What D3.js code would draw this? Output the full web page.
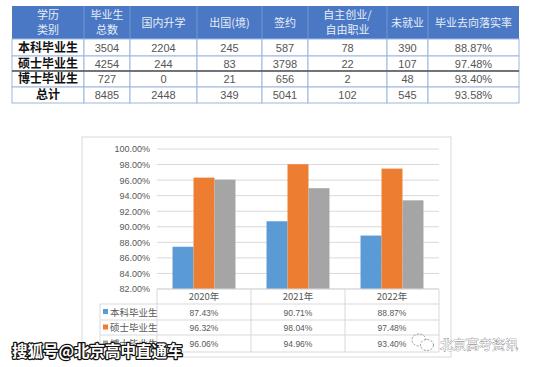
<!DOCTYPE html>
<html><head><meta charset="utf-8">
<script src="https://cdn.jsdelivr.net/npm/d3@7"></script>
<style>
body{margin:0;background:#fff;}
svg{display:block;font-family:"Noto Sans CJK SC","Noto Sans",sans-serif;}
</style></head>
<body><svg id="c" width="534" height="367"></svg>
<script>
// ---- table data ----
const tableHeaders = [["学历","类别"],["毕业生","总数"],["国内升学"],["出国(境)"],["签约"],["自主创业/","自由职业"],["未就业"],["毕业去向落实率"]];
const tableRowNames = ["本科毕业生","硕士毕业生","博士毕业生","总计"];
const tableRows = [
  ["3504","2204","245","587","78","390","88.87%"],
  ["4254","244","83","3798","22","107","97.48%"],
  ["727","0","21","656","2","48","93.40%"],
  ["8485","2448","349","5041","102","545","93.58%"]
];
// ---- chart data ----
const years = ["2020年","2021年","2022年"];
const seriesNames = ["本科毕业生","硕士毕业生","博士毕业生"];
const values = {
  "本科毕业生":[87.43,90.71,88.87],
  "硕士毕业生":[96.32,98.04,97.48],
  "博士毕业生":[96.06,94.96,93.40]
};
const yTicks = [82,84,86,88,90,92,94,96,98,100];
const colors = ["#5B9BD5","#ED7D31","#A5A5A5"];

const svg = d3.select("#c");

// ===== Table =====
const colX = [12,84,130,197,262,308,387,428,519];
const rowY = [6,39,56,71,87,103];
const t = svg.append("g");
t.append("rect").attr("x",colX[0]).attr("y",rowY[0]).attr("width",colX[8]-colX[0]).attr("height",rowY[1]-rowY[0]).attr("fill","#4A78C4");
for(let r=0;r<4;r++){
  for(let c=0;c<8;c++){
    t.append("rect").attr("x",colX[c]).attr("y",rowY[r+1]).attr("width",colX[c+1]-colX[c]).attr("height",rowY[r+2]-rowY[r+1])
      .attr("fill","#fff").attr("stroke","#9DB7DF").attr("stroke-width",1);
  }
}
for(let c=1;c<8;c++){
  t.append("line").attr("x1",colX[c]).attr("x2",colX[c]).attr("y1",rowY[0]).attr("y2",rowY[1]).attr("stroke","#7F9FD6").attr("stroke-width",0.8);
}
t.append("line").attr("x1",colX[0]).attr("x2",colX[8]).attr("y1",rowY[3]).attr("y2",rowY[3]).attr("stroke","#555").attr("stroke-width",1.3);
tableHeaders.forEach((h,c)=>{
  const cx=(colX[c]+colX[c+1])/2;
  const n=h.length;
  h.forEach((s,i)=>{
    t.append("text").attr("x",cx).attr("y",n===1?27:(i===0?19:34)).attr("text-anchor","middle")
      .attr("fill","#E8EEF8").attr("font-size",11).text(s);
  });
});
tableRowNames.forEach((name,r)=>{
  const cy=(rowY[r+1]+rowY[r+2])/2+4;
  t.append("text").attr("x",(colX[0]+colX[1])/2).attr("y",cy).attr("text-anchor","middle")
    .attr("font-size",12).attr("font-weight","bold").attr("fill","#111").text(name);
  tableRows[r].forEach((v,c)=>{
    t.append("text").attr("x",(colX[c+1]+colX[c+2])/2).attr("y",cy).attr("text-anchor","middle")
      .attr("font-size",11).attr("fill","#555").attr("font-family","Liberation Sans, Arial, sans-serif").text(v);
  });
});

// ===== Chart =====
const box = {x:82,y:137,w:369,h:220};
svg.append("rect").attr("x",box.x).attr("y",box.y).attr("width",box.w).attr("height",box.h).attr("fill","#fff").attr("stroke","#D9D9D9");
const pl=157, pr=439, pt=149, pb=289;
const y = d3.scaleLinear().domain([82,100]).range([pb,pt]);
const x0 = d3.scaleBand().domain(years).range([pl,pr]).paddingInner(0).paddingOuter(0);
const x1 = d3.scaleBand().domain(seriesNames).range([0,x0.bandwidth()]).paddingInner(0).paddingOuter(0.74);

const g = svg.append("g");
g.selectAll(".grid").data(yTicks).join("line").attr("x1",pl).attr("x2",pr)
  .attr("y1",d=>y(d)).attr("y2",d=>y(d)).attr("stroke","#D9D9D9").attr("stroke-width",1);
const yAxis = d3.axisLeft(y).tickValues(yTicks).tickSize(0).tickPadding(7).tickFormat(d=>d.toFixed(2)+"%");
const ya = g.append("g").attr("transform",`translate(${pl},0)`).call(yAxis);
ya.select(".domain").remove();
ya.selectAll("text").attr("font-size",9).attr("fill","#595959").attr("font-family","Liberation Sans, Arial, sans-serif");

seriesNames.forEach((s,si)=>{
  g.selectAll(".b"+si).data(years).join("rect")
    .attr("x",d=>x0(d)+x1(s)).attr("width",x1.bandwidth())
    .attr("y",(d,i)=>y(values[s][i])).attr("height",(d,i)=>pb-y(values[s][i]))
    .attr("fill",colors[si]);
});

// data table under chart
const dtRows=[289,304,320,335,352];
const lc=100;
const dt=svg.append("g");
const bc="#D9D9D9";
dt.append("line").attr("x1",pl).attr("x2",pr).attr("y1",dtRows[0]).attr("y2",dtRows[0]).attr("stroke",bc);
for(let i=1;i<dtRows.length;i++){
  dt.append("line").attr("x1",lc).attr("x2",pr).attr("y1",dtRows[i]).attr("y2",dtRows[i]).attr("stroke",bc);
}
dt.append("line").attr("x1",lc).attr("x2",lc).attr("y1",dtRows[1]).attr("y2",dtRows[4]).attr("stroke",bc);
[pl, ...years.map(d=>x0(d)+x0.bandwidth())].forEach(xx=>{
  dt.append("line").attr("x1",xx).attr("x2",xx).attr("y1",dtRows[0]).attr("y2",dtRows[4]).attr("stroke",bc);
});
years.forEach(yr=>{
  dt.append("text").attr("x",x0(yr)+x0.bandwidth()/2).attr("y",(dtRows[0]+dtRows[1])/2+3.5).attr("text-anchor","middle")
    .attr("font-size",9.5).attr("fill","#595959").text(yr);
});
seriesNames.forEach((s,si)=>{
  const cy=(dtRows[si+1]+dtRows[si+2])/2;
  dt.append("rect").attr("x",103).attr("y",cy-3).attr("width",5).attr("height",5).attr("fill",colors[si]);
  dt.append("text").attr("x",110).attr("y",cy+3.5).attr("font-size",9.5).attr("fill","#595959").text(s);
  years.forEach((yr,i)=>{
    dt.append("text").attr("x",x0(yr)+x0.bandwidth()/2).attr("y",cy+3.5).attr("text-anchor","middle")
      .attr("font-size",8.5).attr("fill","#595959").attr("font-family","Liberation Sans, Arial, sans-serif")
      .text(values[s][i].toFixed(2)+"%");
  });
});

// ===== watermarks =====
const wm = svg.append("g");
wm.append("ellipse").attr("cx",419).attr("cy",340).attr("rx",7).attr("ry",6).attr("fill","none").attr("stroke","#888").attr("stroke-width",0.9).attr("stroke-dasharray","2,1.5");
wm.append("ellipse").attr("cx",427).attr("cy",345).attr("rx",6.5).attr("ry",5.5).attr("fill","#fff").attr("stroke","#888").attr("stroke-width",0.9).attr("stroke-dasharray","2,1.5");
wm.append("text").attr("x",440).attr("y",349).attr("font-size",13).attr("fill","#fff").attr("stroke","#666").attr("stroke-width",0.6).attr("paint-order","stroke").text("北京高考资讯");
wm.append("text").attr("x",12).attr("y",357).attr("font-size",15.5).attr("font-weight","bold").attr("fill","#fff").attr("stroke","#111").attr("stroke-width",2.5).attr("paint-order","stroke").attr("stroke-linejoin","round").text("搜狐号@北京高中直通车");
</script></body></html>
